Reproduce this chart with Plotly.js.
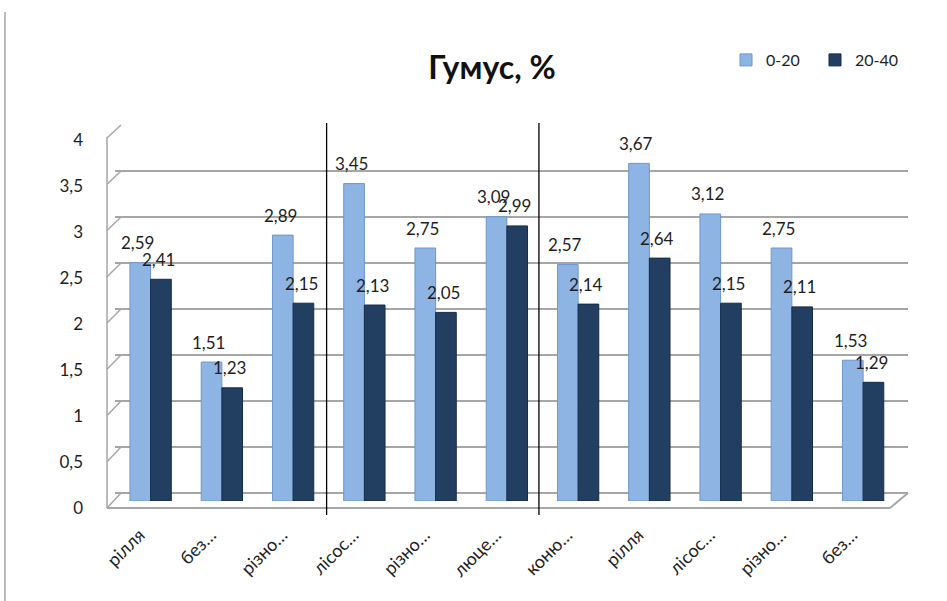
<!DOCTYPE html>
<html>
<head>
<meta charset="utf-8">
<script src="https://cdn.plot.ly/plotly-3.0.1.min.js"></script>
<style>html,body{margin:0;padding:0;background:#fff;}#chart{width:947px;height:601px;}</style>
</head>
<body>
<div id="chart"></div>
<script>
// ---- data ----
const categories = ['рілля', 'без…', 'різно…', 'лісос…', 'різно…', 'люце…', 'коню…', 'рілля', 'лісос…', 'різно…', 'без…'];
const seriesNames = ['0-20', '20-40'];
const values0020 = [2.59, 1.51, 2.89, 3.45, 2.75, 3.09, 2.57, 3.67, 3.12, 2.75, 1.53];
const values2040 = [2.41, 1.23, 2.15, 2.13, 2.05, 2.99, 2.14, 2.64, 2.15, 2.11, 1.29];
const yTickVals = [0, 0.5, 1, 1.5, 2, 2.5, 3, 3.5, 4];
const groupSeparators = [2.47, 5.45];

// ---- layout geometry helpers (pixel -> paper) ----
const L = 115, R = 908, T = 133, B = 501;
const px = x => (x - L) / (R - L);
const py = y => (B - y) / (B - T);

const xIndex = categories.map((_, i) => i);
const fmt = v => String(v).replace('.', ',');

const light = '#8DB4E3', dark = '#223F62';
const txt = '#1E1E1E';

const traces = [
  {type: 'bar', name: seriesNames[0], x: xIndex, y: values0020,
   marker: {color: light, line: {color: '#6C96CB', width: 1}}, hoverinfo: 'y'},
  {type: 'bar', name: seriesNames[1], x: xIndex, y: values2040,
   marker: {color: dark, line: {color: '#162C47', width: 1}}, hoverinfo: 'y'},
  {type: 'scatter', x: [], y: [], yaxis: 'y2', showlegend: false, hoverinfo: 'skip'}
];

const annotations = [];
values0020.forEach((v, i) => annotations.push({x: i, y: v, xref: 'x', yref: 'y', text: fmt(v),
  showarrow: false, xshift: -13, yshift: 20, yanchor: 'middle',
  font: {family: 'Lato, sans-serif', size: 17, color: txt}}));
values2040.forEach((v, i) => annotations.push({x: i, y: v, xref: 'x', yref: 'y', text: fmt(v),
  showarrow: false, xshift: 8, yshift: 20, yanchor: 'middle',
  font: {family: 'Lato, sans-serif', size: 17, color: txt}}));

const shapes = [];
// frame line at far left
shapes.push({type: 'line', xref: 'paper', yref: 'paper', x0: px(5), x1: px(5), y0: py(601), y1: py(12),
  line: {color: '#BDBDBD', width: 2}});
// left wall front edge
shapes.push({type: 'line', xref: 'paper', yref: 'paper', x0: px(107), x1: px(107), y0: py(508), y1: py(137),
  line: {color: '#A6A6A6', width: 1.5}});
// left wall diagonals
yTickVals.forEach(v => {
  shapes.push({type: 'line', xref: 'paper', yref: 'paper',
    x0: px(107), y0: py(508 - v * 92.5), x1: px(121), y1: py(493 - v * 92),
    line: {color: '#A6A6A6', width: 1.5}});
});
// floor front edge and right diagonal
shapes.push({type: 'line', xref: 'paper', yref: 'paper', x0: px(107), x1: px(890), y0: py(508), y1: py(508),
  line: {color: '#A6A6A6', width: 2}});
shapes.push({type: 'line', xref: 'paper', yref: 'paper', x0: px(890), x1: px(908), y0: py(508), y1: py(493),
  line: {color: '#A6A6A6', width: 2}});
// group separators
groupSeparators.forEach(s => shapes.push({type: 'line', xref: 'x', yref: 'paper', x0: s, x1: s,
  y0: py(515), y1: py(123), line: {color: '#000', width: 1.3}}));

const layout = {
  width: 947, height: 601,
  margin: {l: L, r: 947 - R, t: T, b: 601 - B, pad: 0, autoexpand: false},
  paper_bgcolor: '#fff', plot_bgcolor: 'rgba(0,0,0,0)',
  separators: ', ',
  font: {family: 'Lato, sans-serif', color: txt},
  title: {text: '<b>Гумус, %</b>', x: 492 / 947, xanchor: 'center', y: 1 - 68 / 601, yanchor: 'middle',
    font: {family: 'Lato, sans-serif', size: 32, color: '#111'}},
  barmode: 'group', bargap: 0.42, bargroupgap: 0,
  showlegend: true,
  legend: {orientation: 'h', x: px(726), xanchor: 'left', y: py(60), yanchor: 'middle',
    entrywidth: 44, font: {size: 16, color: txt}, bgcolor: 'rgba(0,0,0,0)', itemwidth: 30},
  xaxis: {range: [-0.5, 10.63], tickmode: 'array', tickvals: xIndex, ticktext: categories,
    tickangle: -45, showgrid: false, zeroline: false, showline: false, ticks: '',
    ticklabelstandoff: 19, ticklabelshift: -11, tickfont: {size: 18, color: txt}, fixedrange: true, automargin: false},
  yaxis: {range: [0, 4], tickmode: 'array', tickvals: yTickVals, showgrid: false, zeroline: false,
    showline: false, ticks: '', ticklabelshift: 7, ticklabelstandoff: 31,
    tickfont: {size: 17, color: txt}, fixedrange: true, automargin: false},
  yaxis2: {overlaying: 'y', range: [-8 / 92, 4 - 8 / 92], tickmode: 'array', tickvals: yTickVals,
    showgrid: true, gridcolor: '#A6A6A6', gridwidth: 1.5, showticklabels: false, zeroline: false,
    showline: false, ticks: '', fixedrange: true, layer: 'below traces'},
  annotations: annotations,
  shapes: shapes
};

Plotly.newPlot('chart', traces, layout, {displayModeBar: false, staticPlot: true});
</script>
</body>
</html>
